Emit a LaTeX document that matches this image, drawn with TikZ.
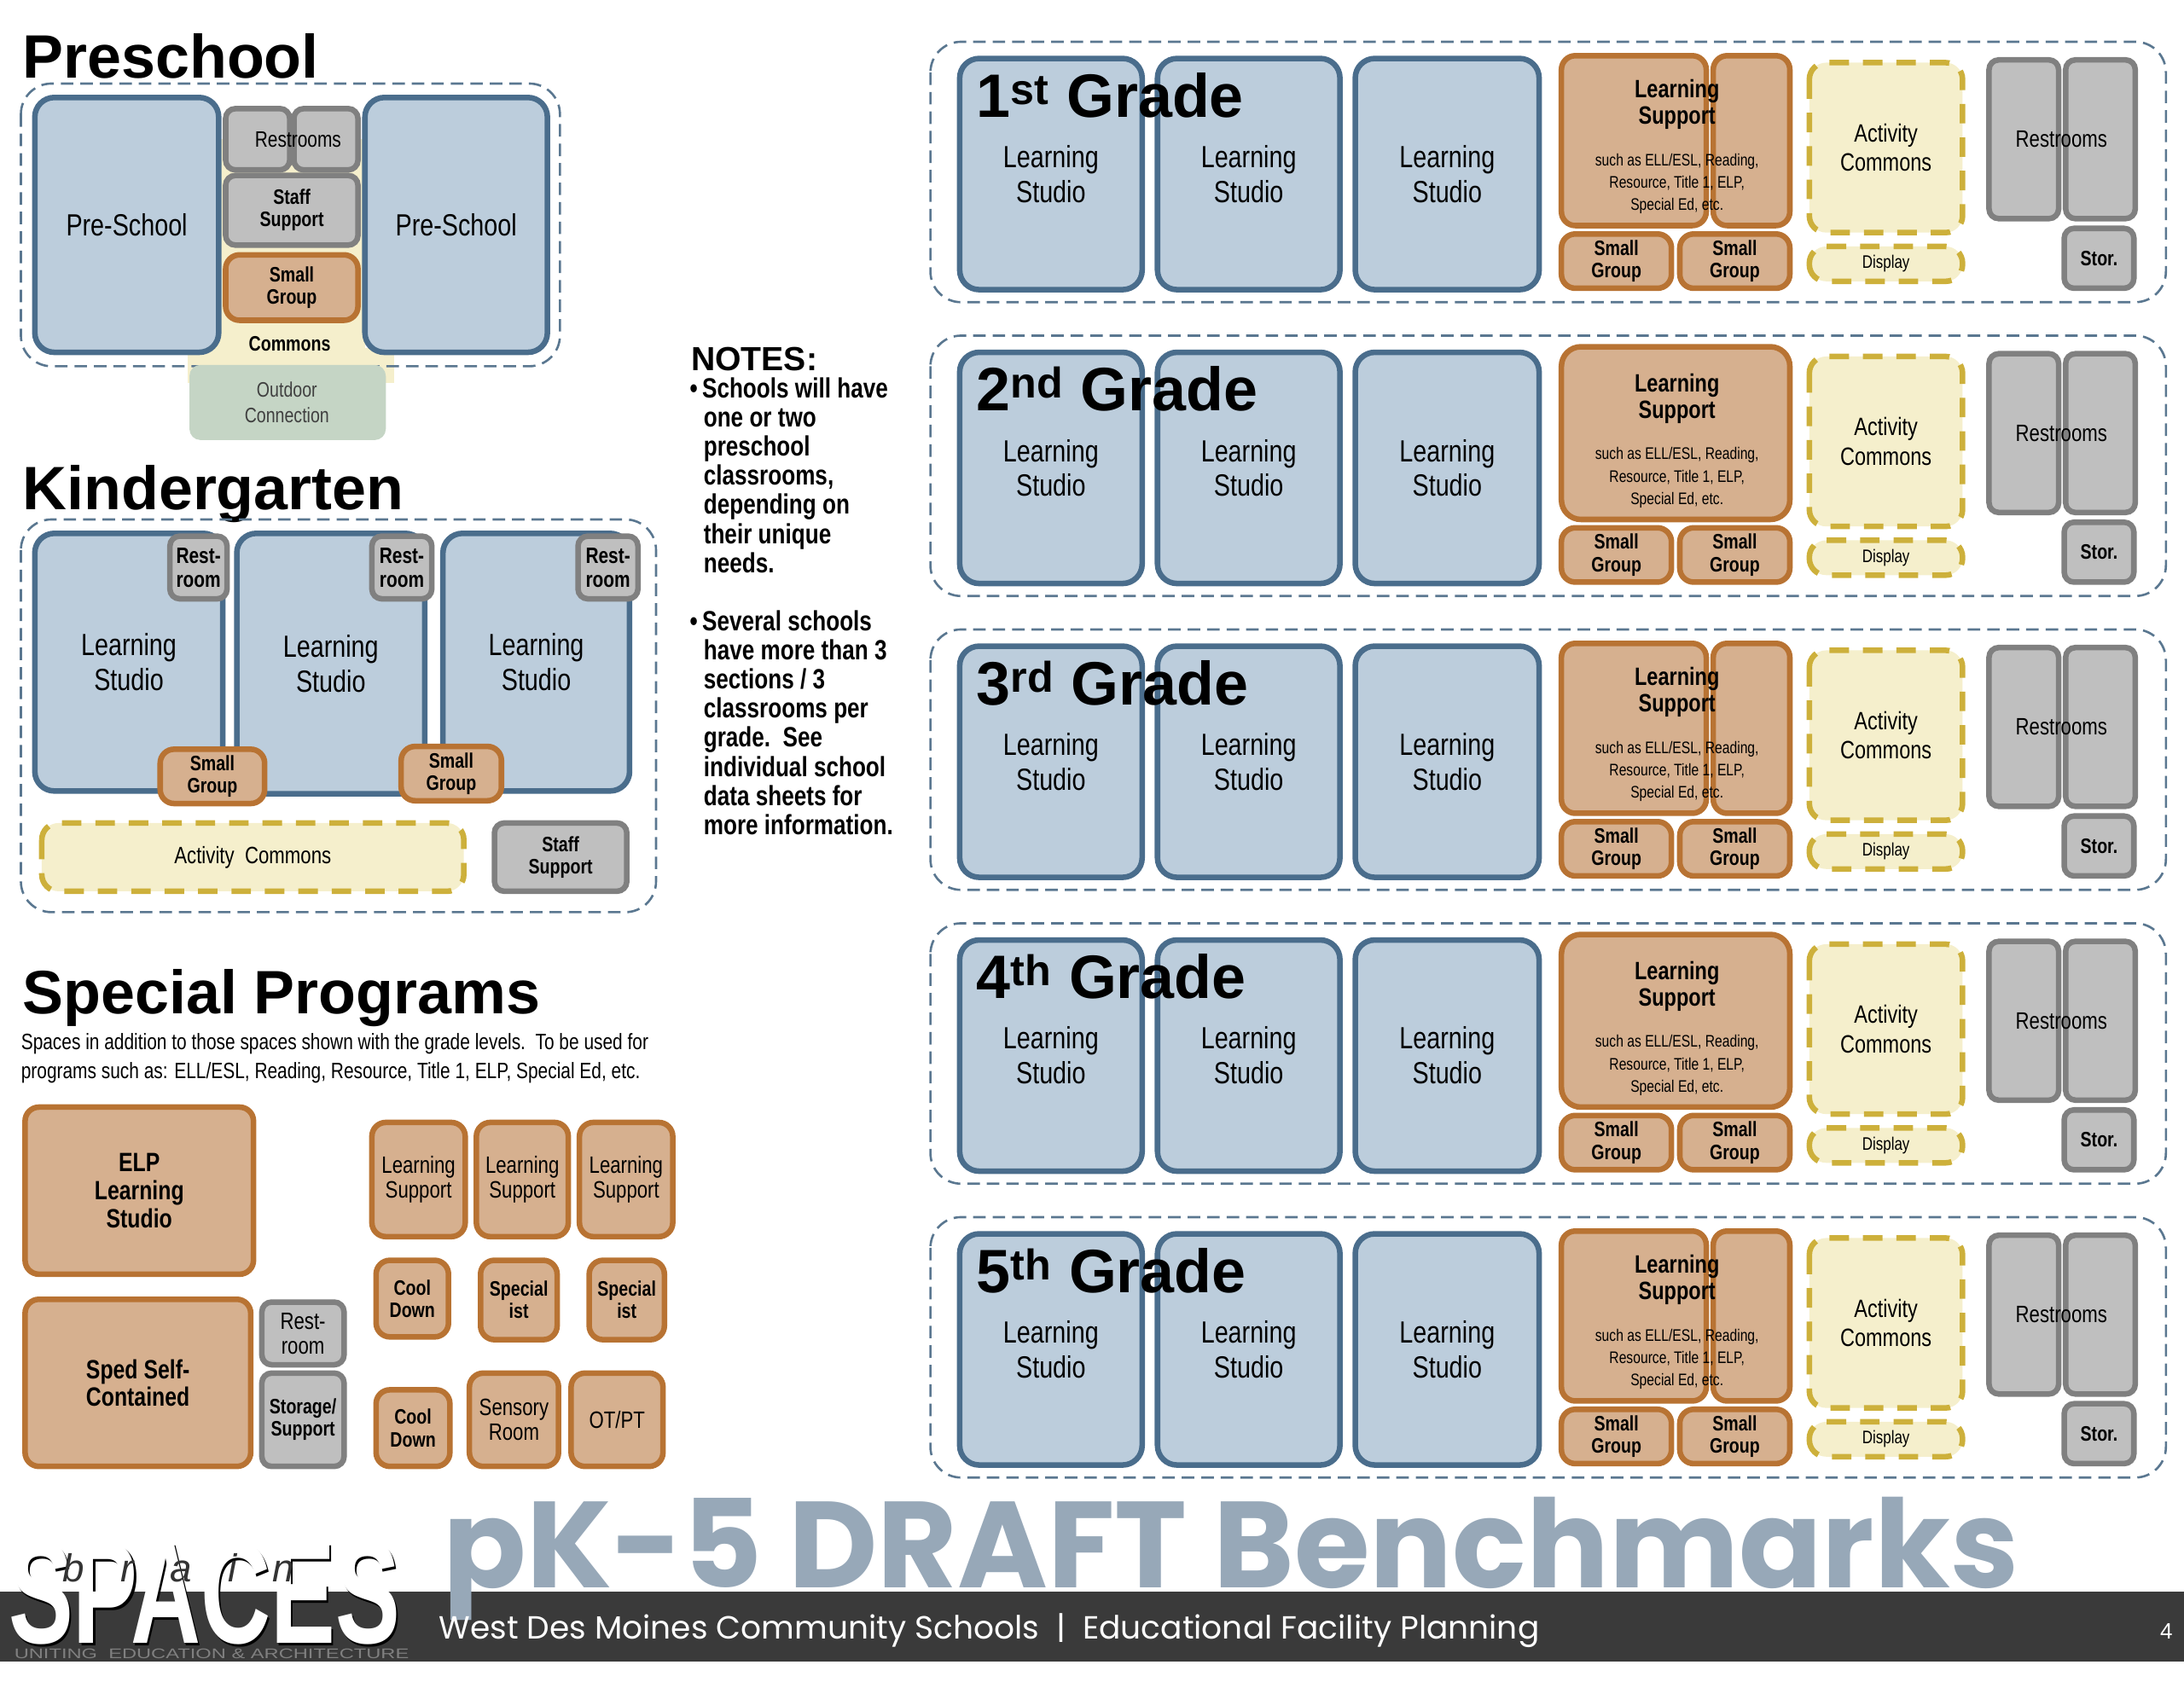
\documentclass[tikz,border=0pt]{standalone}
\usepackage{fontspec}
\setmainfont{Liberation Sans}
\newfontfamily\nar[FakeStretch=0.8]{Liberation Sans}
\newfontfamily\gothic{Poppins}
\definecolor{bfill}{HTML}{BCCDDC}\definecolor{bline}{HTML}{4A6D8C}
\definecolor{ofill}{HTML}{D6B08F}\definecolor{oline}{HTML}{B87333}
\definecolor{gfill}{HTML}{BFBFBF}\definecolor{gline}{HTML}{808080}
\definecolor{yfill}{HTML}{F5EFCC}\definecolor{yline}{HTML}{CDB03B}
\definecolor{cline}{HTML}{5A7790}\definecolor{ttl}{HTML}{97A8B8}
\definecolor{bar}{HTML}{3A3A3A}\definecolor{grn}{HTML}{C5D5C5}
\tikzset{
 bbox/.style={fill=bfill,draw=bline,line width=4pt,rounded corners=14pt},
 obox/.style={fill=ofill,draw=oline,line width=4pt,rounded corners=10pt},
 gbox/.style={fill=gfill,draw=gline,line width=4pt,rounded corners=7pt},
 ybox/.style={fill=yfill,draw=yline,line width=4pt,dash pattern=on 14pt off 10pt,rounded corners=12pt},
 cont/.style={draw=cline,line width=1.6pt,dash pattern=on 9pt off 5pt,rounded corners=22pt},
 lbl/.style={align=center,inner sep=0pt},
 big/.style={anchor=base west,font=\bfseries\fontsize{44}{44}\selectfont,inner sep=0},
 logo/.style={anchor=base west,font=\bfseries\fontsize{58}{58}\selectfont,inner sep=0,xscale=1.2,yscale=1.8}
}
% #1 style, #2-#5 corners, #6 font, #7 text
\newcommand\bx[7]{\draw[#1] (#2,#3) rectangle (#4,#5);
 \node[lbl,font=\nar#6] at ({(#2+#4)/2},{(#3+#5)/2}) {#7};}
\newcommand\fa{\fontsize{22}{25}\selectfont}
\newcommand\fb{\bfseries\fontsize{15}{16}\selectfont}
\newcommand\fc{\fontsize{17}{18}\selectfont}
\begin{document}
\begin{tikzpicture}[x=1pt,y=-1pt]
\useasboundingbox (0,0) rectangle (1568,1212);
% ---------- Preschool
\node[big] at (16,56) {Preschool};
\fill[yfill] (155,100) rectangle (262,275);
\fill[yfill] (135,250) rectangle (283,275);
\draw[cont] (15,60) rectangle (402,263);
\fill[grn,rounded corners=8pt] (136,262) rectangle (277,316);
\node[lbl,font=\nar\fontsize{15}{18}\selectfont,text=black!75] at (206,289) {Outdoor\\Connection};
\bx{bbox}{25}{70}{157}{253}{\fa}{Pre-School}
\bx{bbox}{262}{70}{393}{253}{\fa}{Pre-School}
\draw[gbox] (162,78) rectangle (208,122); \draw[gbox] (211,78) rectangle (257,122);
\node[lbl,font=\nar\fontsize{16}{18}\selectfont] at (214,100) {Restrooms};
\bx{gbox}{162}{126}{257}{176}{\fb}{Staff\\Support}
\bx{obox}{162}{183}{257}{230}{\fb}{Small\\Group}
\node[lbl,font=\nar\bfseries\fontsize{15}{16}\selectfont] at (208,247) {Commons};
% ---------- Kindergarten
\node[big] at (16,366) {Kindergarten};
\draw[cont] (15,373) rectangle (471,655);
\bx{bbox}{25}{383}{160}{568}{\fa}{Learning\\Studio}
\bx{bbox}{170}{383}{305}{570}{\fa}{Learning\\Studio}
\bx{bbox}{318}{383}{452}{568}{\fa}{Learning\\Studio}
\bx{gbox}{122}{385}{163}{430}{\bfseries\fontsize{16}{17}\selectfont}{Rest-\\room}
\bx{gbox}{267}{385}{310}{430}{\bfseries\fontsize{16}{17}\selectfont}{Rest-\\room}
\bx{gbox}{415}{385}{458}{430}{\bfseries\fontsize{16}{17}\selectfont}{Rest-\\room}
\bx{obox}{115}{538}{190}{577}{\fb}{Small\\Group}
\bx{obox}{288}{536}{360}{575}{\fb}{Small\\Group}
\bx{ybox}{30}{591}{333}{640}{\fc}{Activity\ \ Commons}
\bx{gbox}{355}{591}{450}{640}{\fb}{Staff\\Support}
% ---------- Special Programs
\node[big] at (16,728) {Special Programs};
\node[anchor=north west,align=left,font=\nar\fontsize{16}{21}\selectfont,inner sep=0] at (15,742) {Spaces in addition to those spaces shown with the grade levels.\ \ To be used for\\programs such as: ELL/ESL, Reading, Resource, Title 1, ELP, Special Ed, etc.};
\bx{obox}{18}{795}{182}{915}{\bfseries\fontsize{19}{20}\selectfont}{ELP\\Learning\\Studio}
\bx{obox}{18}{933}{180}{1053}{\bfseries\fontsize{19}{20}\selectfont}{Sped Self-\\Contained}
\bx{gbox}{188}{935}{247}{980}{\fc}{Rest-\\room}
\bx{gbox}{188}{986}{247}{1053}{\fb}{Storage/\\Support}
\bx{obox}{267}{806}{334}{888}{\fc}{Learning\\Support}
\bx{obox}{342}{806}{408}{888}{\fc}{Learning\\Support}
\bx{obox}{416}{806}{483}{888}{\fc}{Learning\\Support}
\bx{obox}{270}{905}{322}{960}{\fb}{Cool\\Down}
\bx{obox}{345}{905}{400}{962}{\fb}{Special\\ist}
\bx{obox}{423}{905}{477}{962}{\fb}{Special\\ist}
\bx{obox}{270}{998}{323}{1053}{\fb}{Cool\\Down}
\bx{obox}{337}{986}{401}{1053}{\fc}{Sensory\\Room}
\bx{obox}{410}{986}{476}{1053}{\fc}{OT/PT}
% ---------- Notes
\node[anchor=base west,font=\bfseries\fontsize{24}{24}\selectfont,inner sep=0] at (496,266) {NOTES:};
\node[anchor=north west,align=left,font=\nar\bfseries\fontsize{20}{20.9}\selectfont,inner sep=0] at (495,271) {%
\textbullet\,Schools will have\\\hspace*{10pt}one or two\\\hspace*{10pt}preschool\\\hspace*{10pt}classrooms,\\\hspace*{10pt}depending on\\\hspace*{10pt}their unique\\\hspace*{10pt}needs.\\[20.9pt]
\textbullet\,Several schools\\\hspace*{10pt}have more than 3\\\hspace*{10pt}sections / 3\\\hspace*{10pt}classrooms per\\\hspace*{10pt}grade.\ \ See\\\hspace*{10pt}individual school\\\hspace*{10pt}data sheets for\\\hspace*{10pt}more information.};
% ---------- Grades
\foreach \y/\n/\s/\sp in {30/1/st/1,241/2/nd/0,452/3/rd/1,663/4/th/0,874/5/th/1}{
 \draw[cont] (668,\y) rectangle (1555,\y+187);
 \bx{bbox}{689}{\y+12}{820}{\y+178}{\fa}{Learning\\Studio}
 \bx{bbox}{831}{\y+12}{962}{\y+178}{\fa}{Learning\\Studio}
 \bx{bbox}{973}{\y+12}{1105}{\y+178}{\fa}{Learning\\Studio}
 \node[big] at (701,\y+54) {\n\textsuperscript{\s} Grade};
 \ifnum\sp=1
  \draw[obox] (1121,\y+10) rectangle (1225,\y+132);
  \draw[obox] (1230,\y+10) rectangle (1285,\y+132);
 \else
  \draw[obox,rounded corners=14pt] (1121,\y+8) rectangle (1285,\y+132);
 \fi
 \node[lbl,font=\nar\bfseries\fontsize{18}{19}\selectfont] at (1204,\y+45) {Learning\\Support};
 \node[lbl,font=\nar\fontsize{12}{16}\selectfont] at (1204,\y+102) {such as ELL/ESL, Reading,\\Resource, Title 1, ELP,\\Special Ed, etc.};
 \bx{obox}{1121}{\y+138}{1200}{\y+177}{\fb}{Small\\Group}
 \bx{obox}{1206}{\y+138}{1285}{\y+177}{\fb}{Small\\Group}
 \bx{ybox}{1299}{\y+15}{1409}{\y+137}{\fontsize{18}{21}\selectfont}{Activity\\Commons}
 \bx{ybox}{1299}{\y+147}{1409}{\y+172}{\fontsize{13}{14}\selectfont}{Display}
 \draw[gbox] (1428,\y+13) rectangle (1478,\y+127);
 \draw[gbox] (1483,\y+13) rectangle (1533,\y+127);
 \node[lbl,font=\nar\fontsize{17}{18}\selectfont] at (1480,\y+70) {Restrooms};
 \bx{gbox}{1482}{\y+134}{1532}{\y+177}{\fb}{Stor.}
}
% ---------- Footer
\fill[bar] (0,1143) rectangle (1568,1193);
\node[anchor=base west,text=ttl,font=\gothic\bfseries\fontsize{88}{88}\selectfont,inner sep=0] at (318,1140) {pK-5 DRAFT Benchmarks};
\node[anchor=base west,text=white,font=\gothic\fontsize{23}{23}\selectfont,inner sep=0] at (315,1177) {West Des Moines Community Schools\ \ |\ \ Educational Facility Planning};
\node[anchor=base east,text=white,font=\fontsize{16}{16}\selectfont,inner sep=0] at (1560,1177) {4};
\node[logo,text=black] at (7.5,1181.5) {SPACES};
\node[logo,text=white] at (6,1180) {SPACES};
\node[anchor=base west,text=black!80,font=\itshape\fontsize{28}{28}\selectfont,inner sep=0] at (45,1136) {b\hspace{26pt}r\hspace{26pt}a\hspace{26pt}i\hspace{26pt}n};
\node[anchor=base west,text=gray,font=\fontsize{10}{10}\selectfont,inner sep=0,xscale=1.45] at (10,1191) {UNITING\ \ EDUCATION\ \&\ ARCHITECTURE};
\end{tikzpicture}
\end{document}
